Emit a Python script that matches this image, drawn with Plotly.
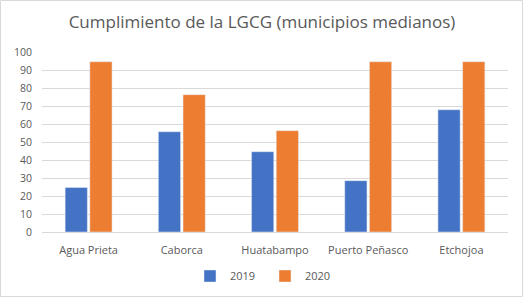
import plotly.graph_objects as go

categories = ["Agua Prieta", "Caborca", "Huatabampo", "Puerto Peñasco", "Etchojoa"]
values_2019 = [24.7, 55.7, 44.6, 28.5, 67.9]
values_2020 = [94.6, 76.3, 56.3, 94.6, 94.6]
series_names = ["2019", "2020"]
y_ticks = list(range(0, 101, 10))

W, H = 524, 298
ml, mr, mt, mb = 42, 16, 52, 66
pw, ph = W - ml - mr, H - mt - mb

fig = go.Figure()
fig.add_trace(go.Bar(x=categories, y=values_2019, name=series_names[0], marker_color="#4472C4"))
fig.add_trace(go.Bar(x=categories, y=values_2020, name=series_names[1], marker_color="#ED7D31"))

fig.update_layout(
    width=W, height=H,
    margin=dict(l=ml, r=mr, t=mt, b=mb, autoexpand=False),
    paper_bgcolor="white", plot_bgcolor="white",
    font=dict(family="Open Sans, Liberation Sans, sans-serif", color="#595959", size=11),
    title=dict(text="Cumplimiento de la LGCG (municipios medianos)", x=0.5, xanchor="center",
               y=1 - 22 / H, yanchor="middle", font=dict(size=17, color="#595959")),
    barmode="group", bargap=0.47, bargroupgap=0.1,
    showlegend=True,
    legend=dict(orientation="h", x=0.5 - 10 / pw, xanchor="center", yref="container", y=1 - 276 / H,
                yanchor="middle", font=dict(size=11, color="#595959"), itemwidth=30, traceorder="normal",
                entrywidth=30, entrywidthmode="pixels"),
    xaxis=dict(showgrid=False, showline=True, linecolor="#D9D9D9", ticks="", ticklabelstandoff=8,
               tickfont=dict(size=11, color="#595959")),
    yaxis=dict(range=[0, 100], tickvals=y_ticks, showgrid=True, gridcolor="#D9D9D9", zeroline=False,
               showline=False, ticks="", ticklabelstandoff=9, tickfont=dict(size=10.5, color="#595959")),
    shapes=[dict(type="rect", xref="paper", yref="paper",
                 x0=-(ml - 0.5) / pw, x1=1 + (mr - 1.5) / pw,
                 y0=-(mb - 1.5) / ph, y1=1 + (mt - 0.5) / ph,
                 line=dict(color="#D9D9D9", width=1), layer="below")],
)

fig.write_html("out.html", post_script="document.body.style.margin='0';",
               config={"displayModeBar": False})
